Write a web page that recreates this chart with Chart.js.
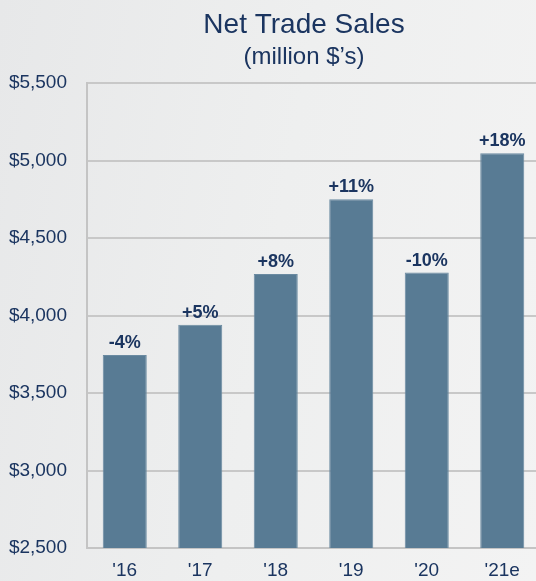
<!DOCTYPE html>
<html>
<head>
<meta charset="utf-8">
<script src="https://cdn.jsdelivr.net/npm/chart.js@4/dist/chart.umd.min.js"></script>
<style>
  html, body { margin: 0; padding: 0; overflow: hidden; width: 536px; height: 581px; }
  body { background: linear-gradient(100deg, #e7e8e9 0%, #eeefef 50%, #f3f3f3 100%); }
  #wrap { position: absolute; left: 0; top: 0; width: 608px; height: 581px; }
</style>
</head>
<body>
<div id="wrap"><canvas id="c"></canvas></div>
<script>
const categories = ["'16", "'17", "'18", "'19", "'20", "'21e"];
const sales = [3745, 3940, 4268, 4750, 4277, 5047];
const growthLabels = ["-4%", "+5%", "+8%", "+11%", "-10%", "+18%"];
const yTicks = [2500, 3000, 3500, 4000, 4500, 5000, 5500];

const navy = '#1b3560';
const FONT = "'Liberation Sans', Arial, sans-serif";

const barLabels = {
  id: 'barLabels',
  afterDatasetsDraw(chart) {
    const ctx = chart.ctx;
    const meta = chart.getDatasetMeta(0);
    ctx.save();
    ctx.fillStyle = navy;
    ctx.font = "bold 18px " + FONT;
    ctx.textAlign = 'center';
    ctx.textBaseline = 'alphabetic';
    meta.data.forEach((bar, i) => {
      ctx.fillText(growthLabels[i], bar.x, bar.y - 7);
    });
    ctx.restore();
  }
};

new Chart(document.getElementById('c'), {
  type: 'bar',
  data: {
    labels: categories,
    datasets: [{
      data: sales,
      yAxisID: 'y',
      backgroundColor: '#587b94',
      borderColor: '#6a8aa1',
      borderWidth: 1,
      borderSkipped: 'bottom',
      categoryPercentage: 1,
      barPercentage: 0.583
    }]
  },
  options: {
    responsive: true,
    maintainAspectRatio: false,
    animation: false,
    layout: { padding: 0 },
    plugins: {
      legend: { display: false },
      tooltip: { enabled: false },
      title: {
        display: true,
        text: 'Net Trade Sales',
        color: navy,
        font: { family: FONT, size: 28, weight: 'normal' },
        padding: { top: 8, bottom: 0 }
      },
      subtitle: {
        display: true,
        text: '(million $\u2019s)',
        color: navy,
        font: { family: FONT, size: 24, weight: 'normal' },
        padding: { top: 1, bottom: 11.6 }
      }
    },
    scales: {
      x: {
        grid: { display: false, drawTicks: false },
        border: { display: true, color: '#c4c4c4', width: 2 },
        ticks: { color: navy, font: { family: FONT, size: 19 }, padding: 11 },
        afterFit(s) { s.height = 33; }
      },
      y: {
        position: 'left',
        min: yTicks[0],
        max: yTicks[yTicks.length - 1],
        afterBuildTicks(s) { s.ticks = yTicks.map(v => ({ value: v })); },
        grid: { color: '#c8c8c8', lineWidth: 2, drawTicks: false },
        border: { display: true, color: '#c4c4c4', width: 2 },
        ticks: {
          color: navy,
          font: { family: FONT, size: 19 },
          padding: 20,
          callback: v => '$' + v.toLocaleString('en-US')
        },
        afterFit(s) { s.width = 87; }
      },
      yRight: {
        position: 'right',
        display: true,
        min: yTicks[0],
        max: yTicks[yTicks.length - 1],
        grid: { display: false, drawTicks: false },
        border: { display: false },
        ticks: { display: false },
        afterFit(s) { s.width = 68; }
      }
    }
  },
  plugins: [barLabels]
});
</script>
</body>
</html>
